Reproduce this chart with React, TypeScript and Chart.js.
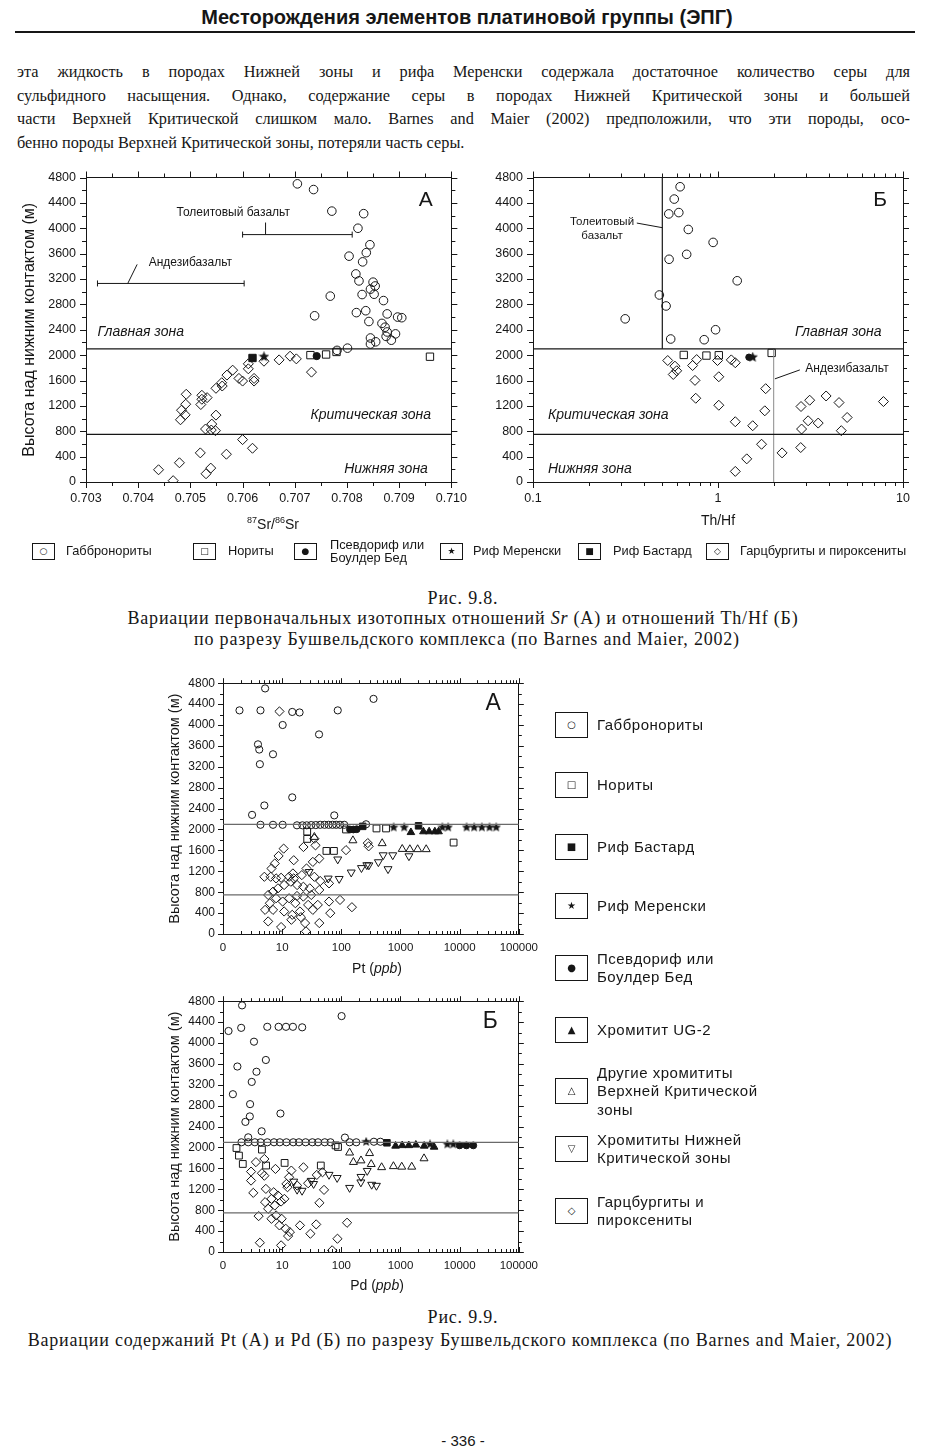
import React, { useEffect, useRef } from 'react';
import { Chart, registerables } from 'chart.js';
Chart.register(...registerables);

type P = [number, number];

const INK = '#161616';
const GREY = '#6a6a6a';
const SANS = '"Liberation Sans", Arial, sans-serif';
const SERIF = '"Liberation Serif", "Times New Roman", serif';

// ---------- shared ----------
const heightTicks = [0, 400, 800, 1200, 1600, 2000, 2400, 2800, 3200, 3600, 4000, 4400, 4800];
const zoneBoundaries = [2100, 750];
const yAxisTitle = 'Высота над нижним контактом (м)';

// ---------- Fig 9.8 A : 87Sr/86Sr ----------
const srTicks = [0.703, 0.704, 0.705, 0.706, 0.707, 0.708, 0.709, 0.71];
const srTickLabels = ['0.703', '0.704', '0.705', '0.706', '0.707', '0.708', '0.709', '0.710'];
const srGabbronorite: P[] = [
  [0.70705, 4700], [0.70736, 4610], [0.70771, 4270], [0.70832, 4230], [0.70821, 4000], [0.70844, 3740],
  [0.70837, 3615], [0.70804, 3560], [0.7083, 3470], [0.70817, 3280], [0.70823, 3170], [0.7085, 3150],
  [0.70854, 3090], [0.70845, 3040], [0.70852, 2960], [0.70829, 2955], [0.70768, 2930], [0.7087, 2860],
  [0.70738, 2620], [0.70818, 2670], [0.70836, 2700], [0.70877, 2650], [0.70842, 2530], [0.70867, 2500],
  [0.70897, 2600], [0.70905, 2590], [0.70873, 2440], [0.70877, 2365], [0.70893, 2335], [0.70875, 2295],
  [0.70845, 2270], [0.70855, 2210], [0.70845, 2175], [0.70885, 2235], [0.70801, 2110], [0.70781, 2075],
];
const srNorite: P[] = [[0.7073, 2000], [0.7076, 2010], [0.7078, 2050], [0.70959, 1975]];
const srPseudoreef: P[] = [[0.70742, 1985]];
const srMerensky: P[] = [[0.70641, 1975]];
const srBastard: P[] = [[0.70619, 1955]];
const srHarzburgite: P[] = [
  [0.70641, 1904], [0.7067, 1925], [0.70691, 1983], [0.70703, 1941], [0.70732, 1732], [0.70611, 1863],
  [0.70611, 1784], [0.706, 1591], [0.70593, 1633], [0.70622, 1633], [0.70622, 1591], [0.70581, 1763],
  [0.7057, 1685], [0.7056, 1565], [0.70561, 1513], [0.70549, 1477], [0.70532, 1330], [0.70522, 1367],
  [0.70522, 1304], [0.7052, 1221], [0.70492, 1383], [0.70491, 1226], [0.70483, 1132], [0.7049, 1059],
  [0.70481, 981], [0.70549, 1054], [0.70541, 913], [0.7054, 819], [0.70529, 835], [0.70548, 809],
  [0.706, 668], [0.70619, 532], [0.70569, 438], [0.70519, 459], [0.70479, 303], [0.70539, 219],
  [0.7053, 130], [0.70439, 193], [0.70467, 21],
];
const srTholeiiteRange = [0.706, 0.7081];
const srTholeiiteLevel = 3900;
const srAndesiteRange = [0.70322, 0.70603];
const srAndesiteLevel = 3130;

// ---------- Fig 9.8 Б : Th/Hf ----------
const thTicks = [0.1, 1, 10];
const thTickLabels = ['0.1', '1', '10'];
const thGabbronorite: P[] = [
  [0.624, 4654], [0.58, 4460], [0.542, 4226], [0.614, 4247], [0.691, 3981], [0.941, 3777], [0.677, 3589],
  [0.544, 3511], [1.27, 3172], [0.482, 2948], [0.524, 2775], [0.315, 2572], [0.97, 2400], [0.555, 2254],
  [0.842, 2243],
];
const thNorite: P[] = [[0.653, 2003], [0.866, 1993], [1.01, 1998], [1.95, 2035]];
const thPseudoreef: P[] = [[1.47, 1967]];
const thMerensky: P[] = [[1.54, 1967]];
const thHarzburgite: P[] = [
  [0.535, 1915], [0.585, 1826], [0.598, 1753], [0.573, 1695], [0.767, 1930], [0.729, 1836], [0.994, 1915],
  [1.18, 1925], [1.24, 1880], [0.751, 1602], [1.01, 1659], [0.758, 1320], [1.01, 1210], [1.81, 1471],
  [1.79, 1122], [1.24, 950], [1.54, 887], [1.72, 595], [1.43, 365], [1.24, 167], [2.22, 459], [2.8, 543],
  [2.83, 835], [2.81, 1190], [3.13, 1289], [3.07, 965], [3.48, 929], [3.84, 1356], [4.51, 1252],
  [4.99, 1017], [4.64, 809], [7.84, 1268],
];
const thTholeiite = 0.5;
const thAndesite = 2;

// ---------- Fig 9.9 : Pt and Pd (ppb) ----------
const ppbTicks = [1, 10, 100, 1000, 10000, 100000];
const ppbTickLabels = ['0', '10', '100', '1000', '10000', '100000'];

const ptGabbronorite: P[] = [
  [1.9, 4280], [4.3, 4280], [5.15, 4700], [14.8, 4250], [19.7, 4240], [87, 4280], [350, 4500], [10.2, 4000],
  [42, 3820], [3.9, 3630], [4.1, 3530], [4.2, 3250], [7.0, 3440], [14.8, 2615], [5.0, 2460], [3.1, 2280],
  [76, 2270], [4.3, 2090], [7.0, 2090], [10.2, 2090], [17.8, 2080], [22, 2080], [26, 2080], [31, 2085],
  [37, 2085], [44, 2090], [52, 2090], [61, 2090], [71, 2090], [82, 2090], [95, 2090], [112, 2090], [262, 2100],
];
const ptNorite: P[] = [[26.5, 1960], [26.5, 1820], [56, 1590], [75, 1590], [120, 2000], [393, 2020], [570, 2020], [7900, 1750]];
const ptBastard: P[] = [[230, 2060], [2020, 2070]];
const ptMerensky: P[] = [[767, 2040], [1155, 2040], [5100, 2040], [6400, 2040], [13100, 2040], [17600, 2040], [23700, 2040], [32000, 2040], [41500, 2040]];
const ptPseudoreef: P[] = [[140, 2000], [160, 2000], [182, 2005]];
const ptUG2: P[] = [[1500, 1945], [2440, 1960], [3050, 1960], [3810, 1960], [4400, 1960]];
const ptUpperCZ: P[] = [[35, 1855], [157, 1790], [490, 1735], [1070, 1625], [1440, 1620], [1950, 1620], [2720, 1620]];
const ptLowerCZ: P[] = [
  [28.6, 1190], [60, 1064], [92, 1057], [87, 1430], [147, 1180], [219, 1265], [292, 1317], [270, 1320],
  [423, 1377], [510, 1510], [616, 1244], [740, 1510], [1390, 1491],
];
const ptHarzburgite: P[] = [
  [9.0, 4260], [22.9, 1665], [35, 1825], [36.6, 1697], [33, 1380], [42.4, 1444], [25.8, 1254], [15.7, 1412],
  [15.2, 1159], [10.6, 1634], [8.7, 1494], [7.5, 1349], [6.6, 1254], [5.0, 1095], [6.4, 1095], [7.9, 1064],
  [9.6, 1076], [13.1, 1095], [15.7, 1064], [21.5, 1127], [35, 1095], [62, 969], [44, 1013], [5.8, 747],
  [7.0, 810], [8.5, 874], [10.8, 937], [14, 1000], [17.9, 937], [22.8, 905], [29.3, 874], [6.2, 589],
  [7.9, 684], [10.2, 621], [13.1, 684], [16.7, 589], [22.8, 716], [31, 747], [42.4, 842], [62, 621],
  [95, 652], [5.15, 462], [7.0, 462], [10.8, 431], [14.8, 367], [20, 431], [27.5, 557], [33, 462],
  [40, 557], [65, 399], [151, 513], [5.8, 241], [9.6, 133], [14.3, 272], [24.4, 209], [42.4, 209],
  [25.3, 51], [20.7, 323], [17.8, 728], [290, 1678], [280, 1740], [120, 1605],
];

const pdGabbronorite: P[] = [
  [1.24, 4230], [1.47, 3020], [1.75, 3550], [2.03, 4290], [2.1, 4720], [5.6, 4310], [8.7, 4310], [11.6, 4310],
  [15.2, 4310], [21.8, 4300], [3.34, 4025], [5.3, 3675], [3.68, 3450], [3.06, 3255], [2.87, 2830], [2.84, 2595],
  [2.39, 2490], [4.5, 2310], [9.35, 2650], [101, 4515], [2.67, 2195], [2.05, 2100], [2.67, 2100], [3.46, 2100],
  [4.32, 2100], [5.61, 2100], [7.28, 2100], [9.12, 2100], [11.8, 2100], [15.4, 2100], [19.2, 2100], [24.9, 2100],
  [32.4, 2100], [40.4, 2100], [52.5, 2100], [65.6, 2100], [115, 2190], [138, 2100], [179, 2100], [355, 2110],
  [457, 2110],
];
const pdNorite: P[] = [[1.69, 1990], [1.86, 1845], [2.16, 1685], [4.55, 1960], [5.35, 1655], [11, 1705], [45, 1655], [80, 2040], [88, 2010]];
const pdBastard: P[] = [[590, 2090]];
const pdMerensky: P[] = [[263, 2110], [3160, 2060], [6200, 2060], [7800, 2060]];
const pdPseudoreef: P[] = [[10000, 2040], [13000, 2040], [17000, 2040]];
const pdUG2: P[] = [[826, 2030], [1070, 2040], [1380, 2040], [1820, 2050], [2510, 2030], [3700, 2010]];
const pdUpperCZ: P[] = [[138, 1900], [160, 1720], [215, 1750], [300, 1890], [320, 1680], [480, 1620], [760, 1640], [1050, 1630], [1550, 1630], [2500, 1790]];
const pdLowerCZ: P[] = [
  [15.7, 1350], [17.9, 1195], [21.7, 1175], [31, 1365], [34, 1305], [62, 1480], [85, 1420], [138, 1230],
  [214, 1335], [215, 1440], [274, 1555], [326, 1290], [392, 1270],
];
const pdHarzburgite: P[] = [
  [2.98, 1539], [3.25, 1132], [4.0, 687], [4.2, 178], [4.55, 1507], [5.0, 1780], [5.3, 1208], [5.15, 954],
  [5.8, 827], [6.6, 1017], [7.5, 890], [7.9, 700], [6.6, 636], [7.2, 1144], [8.5, 1081], [9.6, 966],
  [7.7, 1590], [9.0, 509], [9.8, 636], [10.9, 1017], [12.3, 1240], [13.1, 1431], [11.5, 445], [12.6, 305],
  [13.5, 381], [9.6, 127], [14.3, 1558], [11.8, 1303], [20, 509], [22.9, 1621], [17.9, 1272], [27.5, 1316],
  [30, 350], [37.6, 528], [42.6, 941], [38.5, 1475], [48, 1526], [51, 1189], [86, 254], [70, 32],
  [125, 560], [2.98, 1367], [3.6, 1720], [5.0, 1460],
];

// ---------- helpers ----------
type Tk = { v: number; major: boolean };
function linTicks(min: number, max: number, step: number, majorEvery: number): Tk[] {
  const out: Tk[] = [];
  const n = Math.round((max - min) / step);
  for (let i = 0; i <= n; i++) out.push({ v: min + i * step, major: i % majorEvery === 0 });
  return out;
}
function logTicks(min: number, max: number): Tk[] {
  const out: Tk[] = [];
  for (let e = Math.round(Math.log10(min)); e <= Math.round(Math.log10(max)); e++) {
    for (let k = 1; k <= 9; k++) {
      const v = k * Math.pow(10, e);
      if (v <= max * 1.0001) out.push({ v, major: k === 1 });
    }
  }
  return out;
}

function makeStar(size: number) {
  const c = document.createElement('canvas');
  c.width = size; c.height = size;
  const g = c.getContext('2d')!;
  g.fillStyle = INK;
  g.beginPath();
  const R = size / 2, r = R * 0.45;
  for (let i = 0; i < 10; i++) {
    const a = -Math.PI / 2 + (i * Math.PI) / 5;
    const rr = i % 2 ? r : R;
    g.lineTo(R + rr * Math.cos(a), R + rr * Math.sin(a));
  }
  g.closePath();
  g.fill();
  return c;
}

const sym = (data: P[], style: any, r: number, filled: boolean, rot = 0) => ({
  data: data.map(([x, y]) => ({ x, y })),
  showLine: false,
  pointStyle: style,
  pointRadius: r,
  pointRotation: rot,
  pointBorderColor: INK,
  pointBackgroundColor: filled ? INK : 'rgba(255,255,255,0)',
  pointBorderWidth: 1,
});
const seg = (x1: number, y1: number, x2: number, y2: number, color: string, w = 1) => ({
  data: [{ x: x1, y: y1 }, { x: x2, y: y2 }],
  showLine: true,
  pointRadius: 0,
  borderColor: color,
  borderWidth: w,
  fill: false,
});

type Txt = { text: string; x: number; y: number; size: number; italic?: boolean; align?: CanvasTextAlign };
type Line = { x1: number; y1: number; x2: number; y2: number; cap?: number };

function framePlugin(xt: Tk[], yt: Tk[], major: number, minor: number, bottomIn: boolean) {
  return {
    id: 'frameTicks',
    afterDraw(chart: any) {
      const { ctx, chartArea: a, scales } = chart;
      const xs = scales.x, ys = scales.y;
      ctx.save();
      ctx.strokeStyle = INK;
      ctx.lineWidth = 1;
      ctx.beginPath();
      for (const t of xt) {
        const p = Math.round(xs.getPixelForValue(t.v)) + 0.5;
        const L = t.major ? major : minor;
        ctx.moveTo(p, a.top); ctx.lineTo(p, a.top - L);
        ctx.moveTo(p, a.bottom); ctx.lineTo(p, a.bottom + (bottomIn ? -L : L));
      }
      for (const t of yt) {
        const p = Math.round(ys.getPixelForValue(t.v)) + 0.5;
        const L = t.major ? major : minor;
        ctx.moveTo(a.left, p); ctx.lineTo(a.left - L, p);
        ctx.moveTo(a.right, p); ctx.lineTo(a.right + L, p);
      }
      ctx.stroke();
      ctx.restore();
    },
  };
}

function annotPlugin(texts: Txt[], lines: Line[]) {
  return {
    id: 'annot',
    afterDatasetsDraw(chart: any) {
      const { ctx, scales } = chart;
      const xs = scales.x, ys = scales.y;
      ctx.save();
      ctx.strokeStyle = INK;
      ctx.fillStyle = INK;
      ctx.lineWidth = 1;
      for (const l of lines) {
        const x1 = xs.getPixelForValue(l.x1), y1 = ys.getPixelForValue(l.y1);
        const x2 = xs.getPixelForValue(l.x2), y2 = ys.getPixelForValue(l.y2);
        ctx.beginPath();
        ctx.moveTo(x1, y1); ctx.lineTo(x2, y2);
        if (l.cap) {
          ctx.moveTo(x1, y1 - l.cap); ctx.lineTo(x1, y1 + l.cap);
          ctx.moveTo(x2, y2 - l.cap); ctx.lineTo(x2, y2 + l.cap);
        }
        ctx.stroke();
      }
      for (const t of texts) {
        ctx.font = `${t.italic ? 'italic ' : ''}${t.size}px ${SANS}`;
        ctx.textAlign = t.align || 'center';
        ctx.textBaseline = 'middle';
        ctx.fillText(t.text, xs.getPixelForValue(t.x), ys.getPixelForValue(t.y));
      }
      ctx.restore();
    },
  };
}

interface PanelSpec {
  xType: 'linear' | 'logarithmic';
  xMin: number; xMax: number;
  xTicks: number[]; xLabels: string[];
  yTitle?: string; yTitleSize?: number; yTitlePad?: number;
  boxes: { left: number; right: number; top: number; bottom: number };
  xTickSize: number; yTickSize: number; xTickPad: number; yTickPad: number;
  datasets: any[];
  plugins: any[];
}

function makeConfig(s: PanelSpec): any {
  const font = (size: number) => ({ family: SANS, size, lineHeight: 1.2 });
  const border = { display: true, color: INK, width: 1 };
  const grid = { display: false, drawTicks: false };
  return {
    type: 'scatter',
    data: { datasets: s.datasets },
    plugins: s.plugins,
    options: {
      animation: false,
      responsive: false,
      events: [],
      layout: { padding: 0 },
      plugins: { legend: { display: false }, tooltip: { enabled: false }, title: { display: false } },
      scales: {
        x: {
          type: s.xType, position: 'bottom', min: s.xMin, max: s.xMax,
          afterFit: (sc: any) => { sc.height = s.boxes.bottom; },
          afterBuildTicks: (sc: any) => { sc.ticks = s.xTicks.map((v) => ({ value: v })); },
          ticks: {
            callback: (_v: any, i: number) => s.xLabels[i] ?? '',
            font: font(s.xTickSize), color: INK, padding: s.xTickPad,
            maxRotation: 0, minRotation: 0, autoSkip: false,
          },
          grid, border,
        },
        y: {
          type: 'linear', position: 'left', min: 0, max: 4800,
          afterFit: (sc: any) => { sc.width = s.boxes.left; },
          afterBuildTicks: (sc: any) => { sc.ticks = heightTicks.map((v) => ({ value: v })); },
          ticks: { callback: (v: any) => String(v), font: font(s.yTickSize), color: INK, padding: s.yTickPad, autoSkip: false },
          title: {
            display: !!s.yTitle, text: s.yTitle || '', color: INK,
            font: font(s.yTitleSize || 13), padding: { top: s.yTitlePad || 0, bottom: 0 },
          },
          grid, border,
        },
        x2: {
          type: s.xType, position: 'top', min: s.xMin, max: s.xMax,
          afterFit: (sc: any) => { sc.height = s.boxes.top; },
          ticks: { display: false }, grid, border,
        },
        y2: {
          type: 'linear', position: 'right', min: 0, max: 4800,
          afterFit: (sc: any) => { sc.width = s.boxes.right; },
          ticks: { display: false }, grid, border,
        },
      },
    },
  };
}

// ---------- chart configurations ----------
function cfgSr() {
  const star = makeStar(11);
  return makeConfig({
    xType: 'linear', xMin: 0.703, xMax: 0.71, xTicks: srTicks, xLabels: srTickLabels,
    yTitle: yAxisTitle, yTitleSize: 16, yTitlePad: 6,
    boxes: { left: 72, right: 15, top: 15, bottom: 48 },
    xTickSize: 12.5, yTickSize: 12.5, xTickPad: 9, yTickPad: 10,
    datasets: [
      ...zoneBoundaries.map((z) => seg(0.703, z, 0.71, z, INK, 1.2)),
      sym(srGabbronorite, 'circle', 4.3, false),
      sym(srNorite, 'rect', 5.2, false),
      sym(srPseudoreef, 'circle', 3.6, true),
      sym(srMerensky, star, 5, true),
      sym(srBastard, 'rect', 5.2, true),
      sym(srHarzburgite, 'rectRot', 5, false),
    ],
    plugins: [
      framePlugin(linTicks(0.703, 0.71, 0.0005, 2), linTicks(0, 4800, 200, 2), 6, 4, false),
      annotPlugin(
        [
          { text: 'Толеитовый базальт', x: 0.70582, y: 4250, size: 12 },
          { text: 'Андезибазальт', x: 0.705, y: 3456, size: 12 },
          { text: 'Главная зона', x: 0.70322, y: 2362, size: 14, italic: true, align: 'left' },
          { text: 'Критическая зона', x: 0.70961, y: 1048, size: 14, italic: true, align: 'right' },
          { text: 'Нижняя зона', x: 0.70955, y: 203, size: 14, italic: true, align: 'right' },
          { text: 'А', x: 0.70951, y: 4440, size: 21 },
        ],
        [
          { x1: srTholeiiteRange[0], y1: srTholeiiteLevel, x2: srTholeiiteRange[1], y2: srTholeiiteLevel, cap: 3 },
          { x1: srAndesiteRange[0], y1: srAndesiteLevel, x2: srAndesiteRange[1], y2: srAndesiteLevel, cap: 3 },
          { x1: 0.70644, y1: 4090, x2: 0.70644, y2: srTholeiiteLevel },
          { x1: 0.70398, y1: 3430, x2: 0.7038, y2: srAndesiteLevel },
        ],
      ),
    ],
  });
}

function cfgTh() {
  const star = makeStar(11);
  return makeConfig({
    xType: 'logarithmic', xMin: 0.1, xMax: 10, xTicks: thTicks, xLabels: thTickLabels,
    boxes: { left: 55, right: 17, top: 15, bottom: 48 },
    xTickSize: 12.5, yTickSize: 12.5, xTickPad: 9, yTickPad: 10,
    datasets: [
      seg(0.1, zoneBoundaries[0], 10, zoneBoundaries[0], INK, 1.2),
      seg(0.1, zoneBoundaries[1], 10, zoneBoundaries[1], INK, 1.2),
      seg(thTholeiite, zoneBoundaries[0], thTholeiite, 4800, INK, 1.2),
      seg(thAndesite, 0, thAndesite, zoneBoundaries[0], '#8a8a8a', 1),
      sym(thGabbronorite, 'circle', 4.3, false),
      sym(thNorite, 'rect', 5.2, false),
      sym(thPseudoreef, 'circle', 3.2, true),
      sym(thMerensky, star, 5, true),
      sym(thHarzburgite, 'rectRot', 5, false),
    ],
    plugins: [
      framePlugin(logTicks(0.1, 10), linTicks(0, 4800, 200, 2), 6, 4, false),
      annotPlugin(
        [
          { text: 'Толеитовый', x: 0.236, y: 4098, size: 11.5 },
          { text: 'базальт', x: 0.236, y: 3879, size: 11.5 },
          { text: 'Андезибазальт', x: 4.98, y: 1783, size: 12 },
          { text: 'Главная зона', x: 7.66, y: 2362, size: 14, italic: true, align: 'right' },
          { text: 'Критическая зона', x: 0.1205, y: 1048, size: 14, italic: true, align: 'left' },
          { text: 'Нижняя зона', x: 0.1205, y: 203, size: 14, italic: true, align: 'left' },
          { text: 'Б', x: 7.52, y: 4440, size: 21 },
        ],
        [
          { x1: 0.364, y1: 4082, x2: thTholeiite, y2: 4009 },
          { x1: 2.77, y1: 1767, x2: 2.03, y2: 1626 },
        ],
      ),
    ],
  });
}

function cfgPpb(which: 'Pt' | 'Pd') {
  const star = makeStar(10);
  const d = which === 'Pt'
    ? { g: ptGabbronorite, n: ptNorite, b: ptBastard, m: ptMerensky, p: ptPseudoreef, u: ptUG2, uc: ptUpperCZ, lc: ptLowerCZ, h: ptHarzburgite }
    : { g: pdGabbronorite, n: pdNorite, b: pdBastard, m: pdMerensky, p: pdPseudoreef, u: pdUG2, uc: pdUpperCZ, lc: pdLowerCZ, h: pdHarzburgite };
  return makeConfig({
    xType: 'logarithmic', xMin: 1, xMax: 100000, xTicks: ppbTicks, xLabels: ppbTickLabels,
    yTitle: yAxisTitle, yTitleSize: 14.5, yTitlePad: 6,
    boxes: { left: 63, right: 13, top: 14, bottom: 42 },
    xTickSize: 11.5, yTickSize: 12, xTickPad: 7, yTickPad: 8,
    datasets: [
      ...zoneBoundaries.map((z) => seg(1, z, 100000, z, GREY, 1.2)),
      sym(d.h, 'rectRot', 4.6, false),
      sym(d.g, 'circle', 3.6, false),
      sym(d.n, 'rect', 4.8, false),
      sym(d.uc, 'triangle', 4.6, false),
      sym(d.lc, 'triangle', 4.6, false, 180),
      sym(d.u, 'triangle', 4.4, true),
      sym(d.b, 'rect', 4.6, true),
      sym(d.p, 'circle', 3.4, true),
      sym(d.m, star, 5, true),
    ],
    plugins: [
      framePlugin(logTicks(1, 100000), linTicks(0, 4800, 200, 2), 5, 3, true),
      annotPlugin([{ text: which === 'Pt' ? 'А' : 'Б', x: which === 'Pt' ? 37000 : 33000, y: 4400, size: 23 }], []),
    ],
  });
}

// ---------- components ----------
function ChartPanel({ x, y, w, h, build }: { x: number; y: number; w: number; h: number; build: () => any }) {
  const ref = useRef<HTMLCanvasElement>(null);
  useEffect(() => {
    const chart = new Chart(ref.current!, build());
    return () => chart.destroy();
  }, []);
  return (
    <canvas ref={ref} width={w} height={h} style={{ position: 'absolute', left: x, top: y, width: w, height: h }} />
  );
}

function Txt({ x, y, size, children, family = SANS, align = 'left', lh = 1.2, style = {} }: any) {
  const lineH = size * lh;
  const base: any = {
    position: 'absolute', top: y - lineH / 2, fontFamily: family, fontSize: size, lineHeight: `${lineH}px`,
    whiteSpace: 'nowrap', color: INK, ...style,
  };
  if (align === 'center') return <div style={{ ...base, left: x - 460, width: 920, textAlign: 'center' }}>{children}</div>;
  return <div style={{ ...base, left: x }}>{children}</div>;
}

function LegBox({ x, y, w, h, ch, size }: any) {
  return (
    <div style={{
      position: 'absolute', left: x, top: y - h / 2, width: w, height: h, boxSizing: 'border-box',
      border: `1px solid ${INK}`, display: 'flex', alignItems: 'center', justifyContent: 'center',
      fontFamily: '"DejaVu Sans", sans-serif', fontSize: size, color: INK, lineHeight: 1,
    }}>{ch}</div>
  );
}

const legend98 = [
  { box: 32, ch: '○', text: ['Габбронориты'], tx: 66 },
  { box: 193, ch: '□', text: ['Нориты'], tx: 228 },
  { box: 294, ch: '●', text: ['Псевдориф или', 'Боулдер Бед'], tx: 330 },
  { box: 440, ch: '★', text: ['Риф Меренски'], tx: 473 },
  { box: 578, ch: '■', text: ['Риф Бастард'], tx: 613 },
  { box: 706, ch: '◇', text: ['Гарцбургиты и пироксениты'], tx: 740 },
];
const legend99 = [
  { y: 725, ch: '○', text: ['Габбронориты'] },
  { y: 785, ch: '□', text: ['Нориты'] },
  { y: 847, ch: '■', text: ['Риф Бастард'] },
  { y: 906, ch: '★', text: ['Риф Меренски'] },
  { y: 968, ch: '●', text: ['Псевдориф или', 'Боулдер Бед'] },
  { y: 1030, ch: '▲', text: ['Хромитит UG-2'] },
  { y: 1091, ch: '△', text: ['Другие хромититы', 'Верхней Критической', 'зоны'] },
  { y: 1149, ch: '▽', text: ['Хромититы Нижней', 'Критической зоны'] },
  { y: 1211, ch: '◇', text: ['Гарцбургиты и', 'пироксениты'] },
];

const paragraph = [
  'эта жидкость в породах Нижней зоны и рифа Меренски содержала достаточное количество серы для',
  'сульфидного насыщения. Однако, содержание серы в породах Нижней Критической зоны и большей',
  'части Верхней Критической слишком мало. Barnes and Maier (2002) предположили, что эти породы, осо-',
  'бенно породы Верхней Критической зоны, потеряли часть серы.',
];

const CAP = { letterSpacing: '0.8px' };

export default function App() {
  return (
    <div style={{ position: 'relative', width: 927, height: 1451, background: '#fff', overflow: 'hidden', color: INK }}>
      <style>{'body{margin:0;background:#fff}'}</style>

      <Txt x={467} y={17} size={20} align="center" style={{ fontWeight: 'bold' }}>
        Месторождения элементов платиновой группы (ЭПГ)
      </Txt>
      <div style={{ position: 'absolute', left: 15, top: 31, width: 900, height: 2, background: INK }} />

      {paragraph.map((line, i) => (
        <div key={i} style={{
          position: 'absolute', left: 17, top: 60 + i * 23.5, width: 893, fontFamily: SERIF, fontSize: 16.3,
          lineHeight: '23px', textAlign: 'justify', textAlignLast: i < 3 ? 'justify' : 'left', whiteSpace: 'nowrap',
          color: INK,
        }}>{line}</div>
      ))}

      <ChartPanel x={14} y={160} w={462} h={370} build={cfgSr} />
      <ChartPanel x={478} y={160} w={442} h={370} build={cfgTh} />
      <Txt x={273} y={520} size={14} align="center">
        <sup style={{ fontSize: 9 }}>87</sup>Sr/<sup style={{ fontSize: 9 }}>86</sup>Sr
      </Txt>
      <Txt x={718} y={520} size={14} align="center">Th/Hf</Txt>

      {legend98.map((l, i) => (
        <React.Fragment key={i}>
          <LegBox x={l.box} y={551} w={23} h={17} ch={l.ch} size={9} />
          {l.text.map((t, j) => (
            <Txt key={j} x={l.tx} y={551 + (j - (l.text.length - 1) / 2) * 13} size={12.8}>{t}</Txt>
          ))}
        </React.Fragment>
      ))}

      <Txt x={463} y={599} size={18} align="center" family={SERIF} style={CAP}>Рис. 9.8.</Txt>
      <Txt x={463} y={619} size={18} align="center" family={SERIF} style={CAP}>
        Вариации первоначальных изотопных отношений <i>Sr</i> (А) и отношений Th/Hf (Б)
      </Txt>
      <Txt x={467} y={640} size={18} align="center" family={SERIF} style={CAP}>
        по разрезу Бушвельдского комплекса (по Barnes and Maier, 2002)
      </Txt>

      <ChartPanel x={160} y={668} w={385} h={308} build={() => cfgPpb('Pt')} />
      <ChartPanel x={160} y={986} w={385} h={308} build={() => cfgPpb('Pd')} />
      <Txt x={377} y={968} size={14} align="center">Pt (<i>ppb</i>)</Txt>
      <Txt x={377} y={1285} size={14} align="center">Pd (<i>ppb</i>)</Txt>

      {legend99.map((l, i) => (
        <React.Fragment key={i}>
          <LegBox x={555} y={l.y} w={33} h={26} ch={l.ch} size={10} />
          {l.text.map((t, j) => (
            <Txt key={j} x={597} y={l.y + (j - (l.text.length - 1) / 2) * 18.5} size={15} style={{ letterSpacing: '0.5px' }}>{t}</Txt>
          ))}
        </React.Fragment>
      ))}

      <Txt x={463} y={1318} size={18} align="center" family={SERIF} style={CAP}>Рис. 9.9.</Txt>
      <Txt x={460} y={1341} size={18} align="center" family={SERIF} style={CAP}>
        Вариации содержаний Pt (А) и Pd (Б) по разрезу Бушвельдского комплекса (по Barnes and Maier, 2002)
      </Txt>
      <Txt x={463} y={1441} size={15} align="center">- 336 -</Txt>
    </div>
  );
}
